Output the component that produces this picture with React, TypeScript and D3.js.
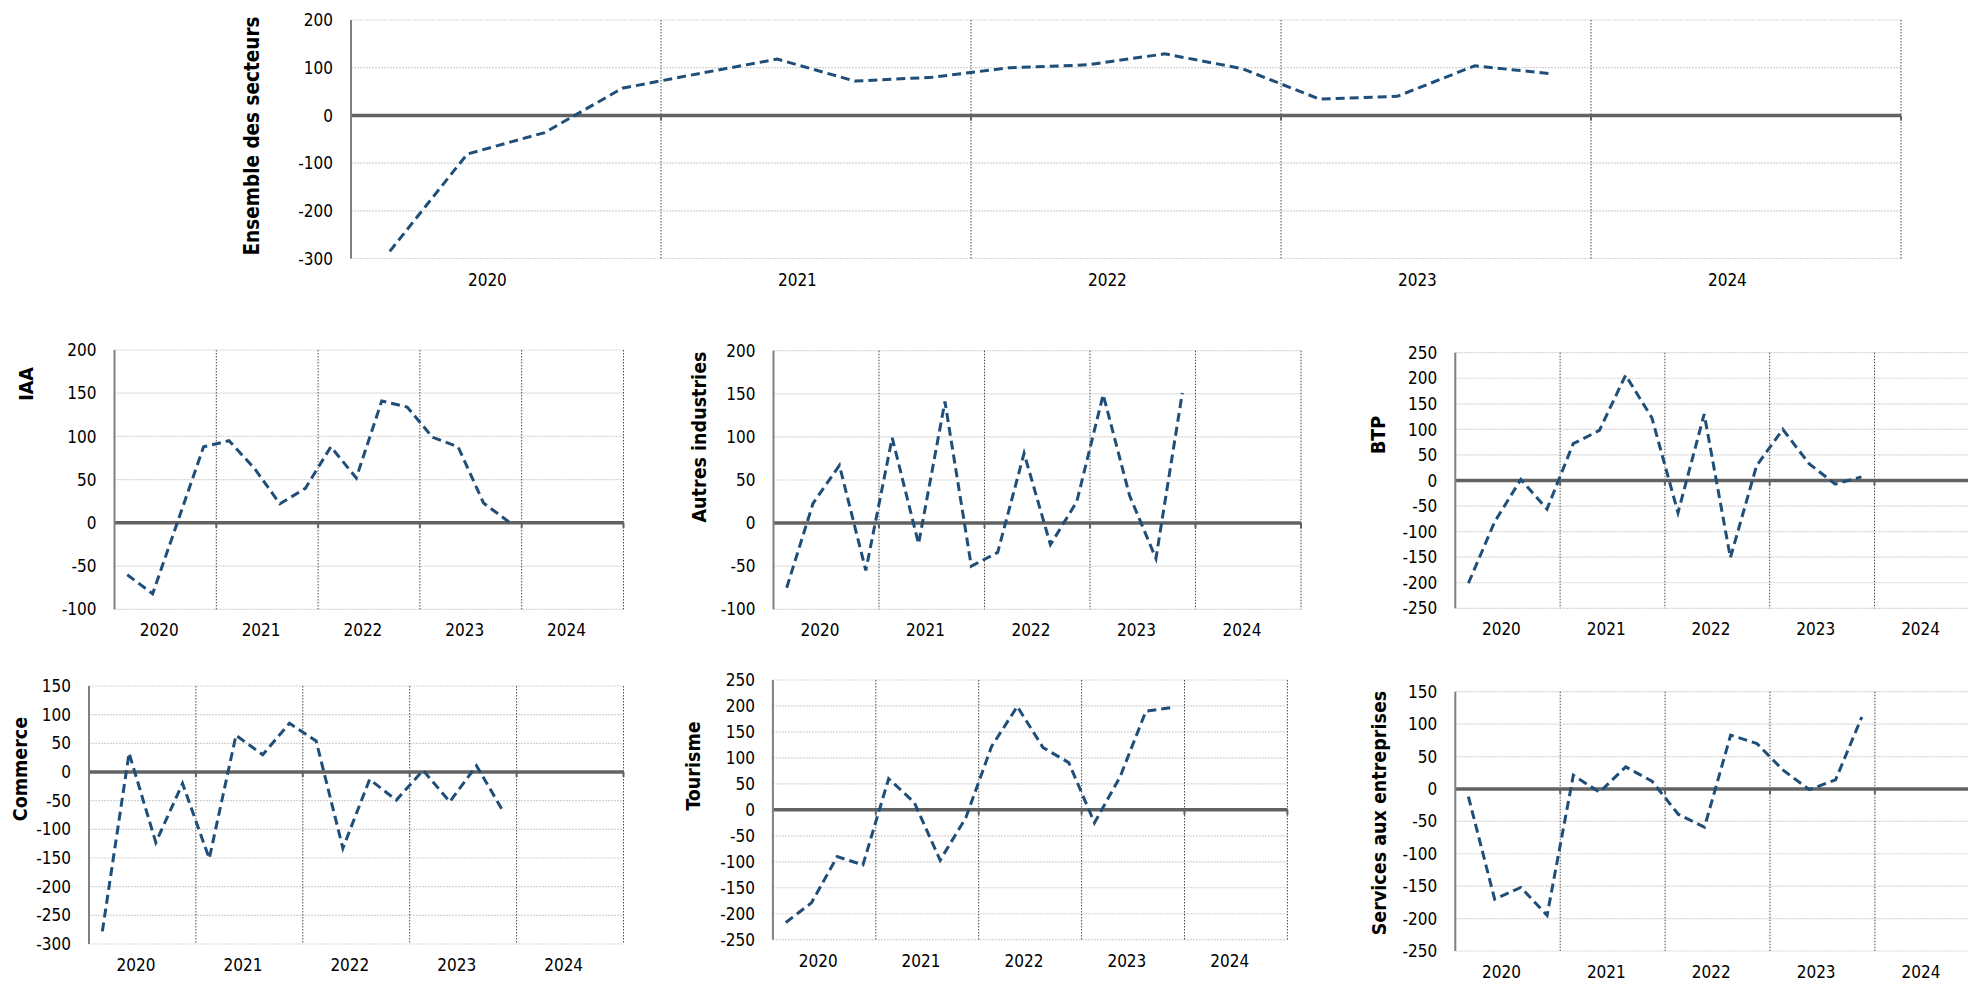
import * as d3 from 'd3';

// quarterly categories, 2020 to 2024
const years = ['2020', '2021', '2022', '2023', '2024'];
const quarters = years.flatMap((yr) => ['T1', 'T2', 'T3', 'T4'].map((q) => `${yr}${q}`));

// series values, 2020T1 -> 2023T4
const ensemble = [-285, -81, -36, 57, 88, 118, 72, 80, 100, 106, 129, 98, 34, 40, 104, 87];
const iaa = [-60, -82, 3, 88, 95, 63, 22, 40, 88, 52, 141, 134, 99, 88, 23, 1];
const autres = [-75, 23, 67, -55, 99, -24, 141, -50, -34, 81, -25, 25, 149, 32, -41, 151];
const btp = [-201, -81, 2, -56, 72, 98, 206, 123, -63, 130, -151, 29, 100, 33, -7, 7];
const commerce = [-278, 33, -123, -20, -151, 64, 30, 85, 54, -133, -13, -49, 3, -52, 11, -69];
const tourisme = [-217, -179, -90, -106, 60, 14, -97, -15, 122, 199, 120, 91, -25, 64, 190, 197];
const services = [-12, -170, -152, -195, 21, -5, 34, 12, -39, -59, 83, 70, 29, -1, 14, 111];

// y axis ranges [min, max, step]
const ensembleTicks = [-300, 200, 100];
const iaaTicks = [-100, 200, 50];
const autresTicks = [-100, 200, 50];
const btpTicks = [-250, 250, 50];
const commerceTicks = [-300, 150, 50];
const tourismeTicks = [-250, 250, 50];
const servicesTicks = [-250, 150, 50];

const LINE = '#1f4e79';
const FONT = "'DejaVu Sans Condensed', 'DejaVu Sans', sans-serif";

type PanelProps = {
  title: string;
  values: number[];
  range: number[];
  x0: number;
  band: number; // width of one year
  top: number;
  bottom: number;
  titleX: number;
  titleY: number;
  titleSize: number;
};

const Panel = ({ title, values, range, x0, band, top, bottom, titleX, titleY, titleSize }: PanelProps) => {
  const [yMin, yMax, step] = range;
  const x1 = x0 + band * years.length;
  const x = d3.scaleBand<string>().domain(quarters).range([x0, x1]);
  const xYear = d3.scaleBand<string>().domain(years).range([x0, x1]);
  const y = d3.scaleLinear().domain([yMin, yMax]).range([bottom, top]);
  const ticks = d3.range(yMin, yMax + step / 2, step);

  const line = d3
    .line<number>()
    .x((_, i) => (x(quarters[i]) ?? 0) + x.bandwidth() / 2)
    .y((d) => y(d));

  const boundaries = years.map((yr) => (xYear(yr) ?? 0) + xYear.bandwidth());

  return (
    <g fontFamily={FONT} fontStretch="condensed">
      {/* horizontal gridlines */}
      {ticks
        .filter((t) => t !== 0)
        .map((t) => (
          <line key={`g${t}`} x1={x0} x2={x1} y1={y(t)} y2={y(t)} stroke="#d4d4d4" strokeWidth={1.2} strokeDasharray="2,1" />
        ))}
      {/* year separators */}
      {boundaries.map((bx, i) => (
        <line key={`v${i}`} x1={bx} x2={bx} y1={top} y2={bottom} stroke="#4a4a4a" strokeWidth={1} strokeDasharray="1.5,1.5" />
      ))}
      {/* zero line and its ticks */}
      <line x1={x0} x2={x1} y1={y(0)} y2={y(0)} stroke="#626262" strokeWidth={3.5} />
      {boundaries.map((bx, i) => (
        <line key={`t${i}`} x1={bx} x2={bx} y1={y(0)} y2={y(0) + 5} stroke="#626262" strokeWidth={2} />
      ))}
      {/* y axis */}
      <line x1={x0} x2={x0} y1={top} y2={bottom} stroke="#808080" strokeWidth={2} />
      {/* series */}
      <path d={line(values) ?? ''} fill="none" stroke={LINE} strokeWidth={3} strokeDasharray="9,5" />
      {/* tick labels */}
      {ticks.map((t) => (
        <text key={`l${t}`} x={x0 - 18} y={y(t)} dy="0.36em" textAnchor="end" fontSize={17} fill="#000">
          {t}
        </text>
      ))}
      {years.map((yr) => (
        <text
          key={yr}
          x={(xYear(yr) ?? 0) + xYear.bandwidth() * 0.44}
          y={bottom + 21}
          dy="0.36em"
          textAnchor="middle"
          fontSize={17}
          fill="#000"
        >
          {yr}
        </text>
      ))}
      <text
        transform={`translate(${titleX},${titleY}) rotate(-90)`}
        textAnchor="middle"
        fontWeight="bold"
        fontSize={titleSize}
        fill="#000"
      >
        {title}
      </text>
    </g>
  );
};

export default function App() {
  return (
    <svg width={1968} height={981} style={{ position: 'absolute', left: 0, top: 0, background: '#fff' }}>
      <Panel title="Ensemble des secteurs" values={ensemble} range={ensembleTicks}
        x0={351} band={310} top={20} bottom={258.5} titleX={259} titleY={136} titleSize={20.5} />
      <Panel title="IAA" values={iaa} range={iaaTicks}
        x0={114.5} band={101.8} top={350} bottom={609.3} titleX={33} titleY={384} titleSize={19.5} />
      <Panel title="Autres industries" values={autres} range={autresTicks}
        x0={773.5} band={105.5} top={350.7} bottom={609.3} titleX={706} titleY={437} titleSize={19.5} />
      <Panel title="BTP" values={btp} range={btpTicks}
        x0={1455.3} band={104.8} top={352.7} bottom={608.3} titleX={1385} titleY={435} titleSize={19.5} />
      <Panel title="Commerce" values={commerce} range={commerceTicks}
        x0={89} band={106.9} top={686} bottom={944} titleX={27} titleY={769} titleSize={19.5} />
      <Panel title="Tourisme" values={tourisme} range={tourismeTicks}
        x0={772.9} band={102.9} top={680} bottom={939.7} titleX={700} titleY={766} titleSize={19.5} />
      <Panel title="Services aux entreprises" values={services} range={servicesTicks}
        x0={1455.3} band={104.9} top={691.7} bottom={951} titleX={1386} titleY={813} titleSize={19.5} />
    </svg>
  );
}
